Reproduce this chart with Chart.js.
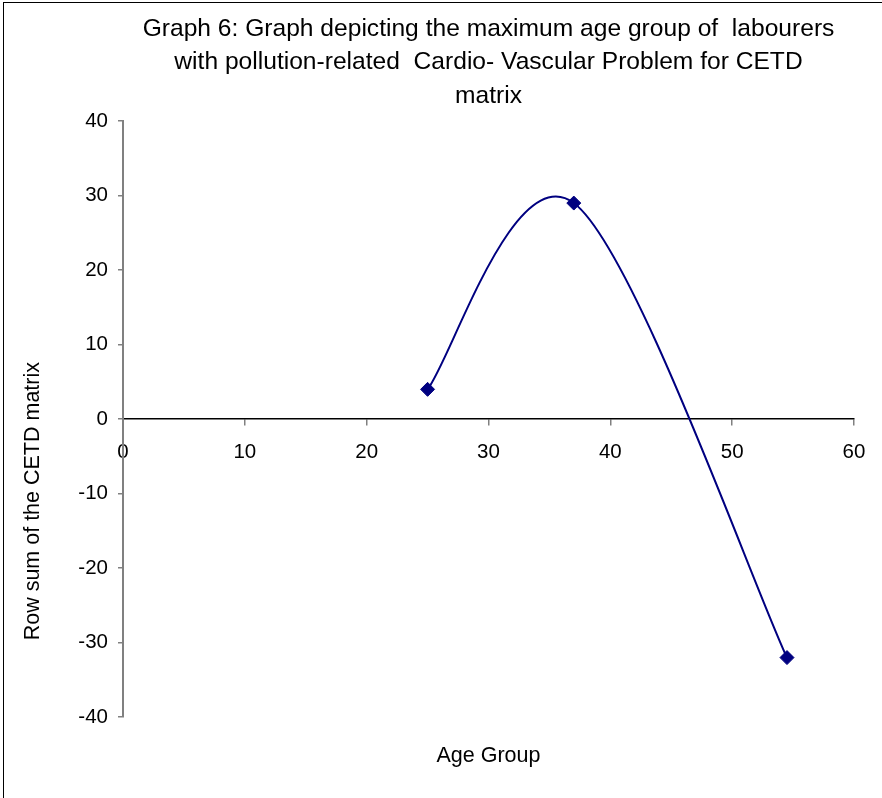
<!DOCTYPE html>
<html>
<head>
<meta charset="utf-8">
<script src="https://cdn.jsdelivr.net/npm/chart.js@4"></script>
<style>
  body { margin: 0; background: #fff; overflow: hidden; }
  #frame { position: absolute; left: 3px; top: 2px; width: 900px; height: 900px; border: 1.5px solid #000; }
  #chart { position: absolute; left: 0; top: 0; }
</style>
</head>
<body>
<div id="frame"></div>
<canvas id="chart" width="882" height="798"></canvas>
<script>
// values
var ages = [25, 37, 54.5];
var rowSums = [4, 29, -32];
var xTicks = [0, 10, 20, 30, 40, 50, 60];
var yTicks = [-40, -30, -20, -10, 0, 10, 20, 30, 40];

var titleLines = [
    'Graph 6: Graph depicting the maximum age group of  labourers',
    'with pollution-related  Cardio- Vascular Problem for CETD',
    'matrix'
];
var xTitle = 'Age Group';
var yTitle = 'Row sum of the CETD matrix';

var fontName = '"Liberation Sans", Arial, sans-serif';

let points = [];
for (var i in ages)
    points.push({x: ages[i], y: rowSums[i]})

// Excel-like smoothing: catmull-rom control points (1/6 of neighbour span)
const excelSmooth = {
    id: 'excelSmooth',
    beforeDatasetDraw(chart, args) {
        let meta = args.meta
        if (!meta.dataset) return
        meta.dataset.updateControlPoints(chart.chartArea)
        let pts = meta.data
        for (var i = 0; i < pts.length; i++) {
            let p0 = pts[Math.max(i - 1, 0)]
            let p1 = pts[i]
            let p2 = pts[Math.min(i + 1, pts.length - 1)]
            let dx = (p2.x - p0.x) / 6
            let dy = (p2.y - p0.y) / 6
            p1.cp1x = p1.x - dx
            p1.cp1y = p1.y - dy
            p1.cp2x = p1.x + dx
            p1.cp2y = p1.y + dy
        }
    }
};

// rotated y title, placed like the original (a bit below the middle)
const yTitlePlugin = {
    id: 'yTitlePlugin',
    afterDraw(chart) {
        let ctx = chart.ctx
        let area = chart.chartArea
        ctx.save()
        ctx.translate(area.left - 90, (area.top + area.bottom) / 2 + 82)
        ctx.rotate(-Math.PI / 2)
        ctx.font = '21.5px ' + fontName
        ctx.fillStyle = '#000'
        ctx.textAlign = 'center'
        ctx.textBaseline = 'middle'
        ctx.fillText(yTitle, 0, 0)
        ctx.restore()
    }
};

let chart = new Chart(document.getElementById('chart'), {
    type: 'scatter',
    data: {
        datasets: [{
            data: points,
            showLine: true,
            tension: 0.4,
            borderColor: '#000080',
            borderWidth: 2,
            backgroundColor: '#000080',
            pointStyle: 'rectRot',
            pointRadius: 7,
            pointBorderWidth: 1,
            pointBorderColor: '#000080',
            pointBackgroundColor: '#000080'
        }]
    },
    options: {
        responsive: false,
        animation: false,
        layout: {
            padding: {left: 5, right: 28, top: 0, bottom: 29}
        },
        scales: {
            x: {
                type: 'linear',
                position: {y: 0},
                min: 0,
                max: 60,
                afterBuildTicks: function(scale) {
                    scale.ticks = xTicks.map(v => ({value: v}))
                },
                grid: {drawOnChartArea: false, drawTicks: true, tickLength: 6, color: '#808080', lineWidth: 1.5},
                border: {color: '#000', width: 1.5},
                ticks: {color: '#000', padding: 15, font: {family: fontName, size: 20.5}, maxRotation: 0}
            },
            y: {
                type: 'linear',
                min: -40,
                max: 40,
                afterBuildTicks: function(scale) {
                    scale.ticks = yTicks.map(v => ({value: v}))
                },
                afterFit: function(scale) {
                    scale.width = 118
                },
                grid: {drawOnChartArea: false, drawTicks: true, tickLength: 5, color: '#808080', lineWidth: 1.5},
                border: {color: '#808080', width: 2},
                ticks: {color: '#000', padding: 10, font: {family: fontName, size: 20.5}}
            }
        },
        plugins: {
            legend: {display: false},
            tooltip: {enabled: false},
            title: {
                display: true,
                fullSize: false,
                text: titleLines,
                color: '#000',
                font: {family: fontName, size: 24.6, weight: 'normal', lineHeight: 1.37},
                padding: {top: 12, bottom: 8}
            },
            subtitle: {
                display: true,
                position: 'bottom',
                fullSize: false,
                text: xTitle,
                color: '#000',
                font: {family: fontName, size: 21.5, weight: 'normal', lineHeight: 1.2},
                padding: {top: 26, bottom: 0}
            }
        }
    },
    plugins: [excelSmooth, yTitlePlugin]
});
</script>
</body>
</html>
